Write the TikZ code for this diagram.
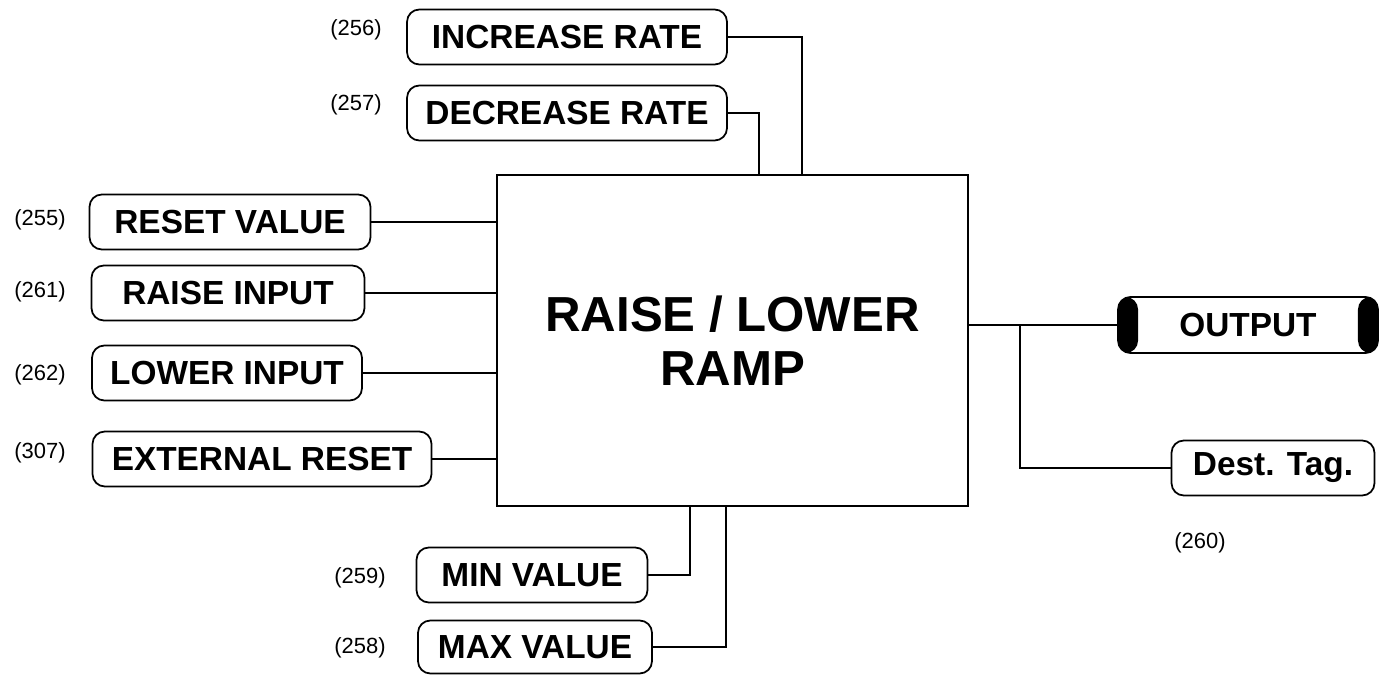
\documentclass[tikz,border=0pt]{standalone}
\usepackage{fontspec}
\setmainfont{Liberation Sans}
\usetikzlibrary{positioning,calc}

\begin{document}
\begin{tikzpicture}[
  x=0.02cm, y=-0.02cm,
  line width=1pt,
  param/.style={draw, rounded corners=7pt, font=\fontsize{19}{22}\selectfont\bfseries, minimum height=1.1cm, inner sep=2pt},
  tag/.style={font=\fontsize{12.5}{14}\selectfont},
  block/.style={draw, align=center, minimum width=9.42cm, minimum height=6.62cm, font=\fontsize{28}{31}\selectfont\bfseries},
  outbox/.style={draw, rounded corners=7pt, font=\fontsize{19}{22}\selectfont\bfseries, minimum width=5.2cm, minimum height=1.12cm,
    path picture={
      \fill ([xshift=0.4cm]path picture bounding box.north west) rectangle (path picture bounding box.south west);
      \fill ([xshift=-0.4cm]path picture bounding box.north east) rectangle (path picture bounding box.south east);}}
]
\useasboundingbox (0,0) rectangle (1383,675);

\node[block] (ramp) at (732.5,340.5) {RAISE / LOWER\\RAMP};

% inputs on top
\node[param, minimum width=6.4cm] (incr) at (567,37) {INCREASE RATE};
\node[param, minimum width=6.4cm] (decr) at (567,113) {DECREASE RATE};
\node[tag] (lbl256) at (356,30) {(256)};
\node[tag] (lbl257) at (356,105) {(257)};

% inputs on the left
\node[param, minimum width=5.62cm] (reset) at (230,222) {RESET VALUE};
\node[param, minimum width=5.46cm] (raise) at (228,293) {RAISE INPUT};
\node[param, minimum width=5.4cm] (lower) at (227,373) {LOWER INPUT};
\node[param, minimum width=6.78cm] (extreset) at (262,459) {EXTERNAL RESET};
\node[tag] (lbl255) at (40,220) {(255)};
\node[tag] (lbl261) at (40,292) {(261)};
\node[tag] (lbl262) at (40,375) {(262)};
\node[tag] (lbl307) at (40,453) {(307)};

% inputs below
\node[param, minimum width=4.62cm] (minval) at (532,575) {MIN VALUE};
\node[param, minimum width=4.68cm, minimum height=1.06cm] (maxval) at (535,647) {MAX VALUE};
\node[tag] (lbl259) at (360,578) {(259)};
\node[tag] (lbl258) at (360,648) {(258)};

% outputs
\node[outbox] (output) at (1248,325) {OUTPUT};
\node[param, minimum width=4.06cm] (dest) at (1273,468) {Dest. Tag.};
\node[tag] (lbl260) at (1200,543) {(260)};

\draw (incr.east) -| ($(ramp.north west)+(306,0)$);
\draw (decr.east) -| ($(ramp.north west)+(263,0)$);
\draw (reset.east) -- (reset.east -| ramp.west);
\draw (raise.east) -- (raise.east -| ramp.west);
\draw (lower.east) -- (lower.east -| ramp.west);
\draw (extreset.east) -- (extreset.east -| ramp.west);
\draw (minval.east) -| ($(ramp.south west)+(194,0)$);
\draw (maxval.east) -| ($(ramp.south west)+(230,0)$);
\draw (ramp.east |- output.west) -- (output.west);
\draw ($(ramp.east |- output.west)+(51,0)$) |- (dest.west);

\end{tikzpicture}
\end{document}
